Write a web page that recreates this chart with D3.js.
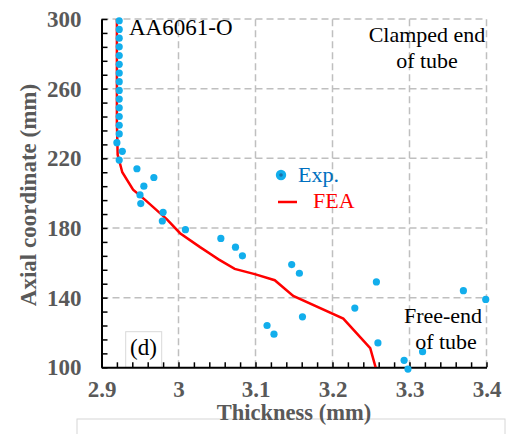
<!DOCTYPE html>
<html><head><meta charset="utf-8">
<script src="https://cdn.jsdelivr.net/npm/d3@7"></script>
<style>
html,body{margin:0;padding:0;background:#fff;}
svg{display:block;}
</style></head>
<body>
<svg id="chart" width="515" height="434"></svg>
<script>
// ---- data ----
const expAxial = [299,294,289,284,279,274,269,264,259,254,249,244,239,234,229,224,219,214,209,204,199,194,189,184,179,174,169,164,159,154,149,144,139,134,129,124,119,114,109,104,99];
const expThickness = [2.923,2.923,2.923,2.923,2.923,2.923,2.923,2.923,2.923,2.923,2.923,2.923,2.923,2.923,2.920,2.927,2.923,2.946,2.968,2.955,2.950,2.951,2.980,2.979,3.009,3.055,3.074,3.083,3.147,3.157,3.257,3.370,3.399,3.229,3.161,3.115,3.124,3.259,3.317,3.293,3.298];
const feaAxial = [300,280,260,240,222,212,202,196,185,177,169,162,156.5,153.5,150,141,128,111,100];
const feaThickness = [2.920,2.920,2.920,2.920,2.921,2.927,2.941,2.957,2.985,3.002,3.028,3.052,3.073,3.099,3.125,3.149,3.214,3.249,3.256];
const xTickLabels = ["2.9","3","3.1","3.2","3.3","3.4"];
const xTickValues = [2.9,3.0,3.1,3.2,3.3,3.4];
const yTickValues = [100,140,180,220,260,300];

const FONT = "'Liberation Serif', 'Times New Roman', Tinos, serif";
const svg = d3.select("#chart");
const x = d3.scaleLinear().domain([2.9,3.4]).range([101.5,486.5]);
const y = d3.scaleLinear().domain([100,300]).range([367.3,19]);
const gray = "#595959";

function txt(px, py, s, size, color, opts={}) {
  const t = svg.append("text").attr("x",px).attr("y",py)
    .style("font-family",FONT)
    .attr("font-size",size).attr("fill",color).text(s);
  if (opts.anchor) t.attr("text-anchor",opts.anchor);
  if (opts.bold) t.style("font-weight","bold");
  return t;
}

svg.append("defs").append("clipPath").attr("id","plotclip").append("rect")
  .attr("x",x(2.9)-5).attr("y",y(300)-5).attr("width",x(3.4)-x(2.9)+10).attr("height",y(100)-y(300)+5);

// grid
const grid = svg.append("g").attr("stroke","#bfbfbf").attr("stroke-width",1.5).attr("stroke-dasharray","7,4").attr("fill","none");
xTickValues.slice(1).forEach(v=>{
  grid.append("line").attr("x1",x(v)).attr("x2",x(v)).attr("y1",y(100)).attr("y2",y(300));
});
yTickValues.slice(1).forEach(v=>{
  grid.append("line").attr("x1",x(2.9)).attr("x2",x(3.4)).attr("y1",y(v)).attr("y2",y(v));
});

// (d) box
svg.append("rect").attr("x",125.7).attr("y",331.7).attr("width",36).attr("height",y(100)-331.7)
  .attr("fill","#fff").attr("stroke","#d9d9d9").attr("stroke-width",1);
txt(143.5,355,"(d)",23,"#000",{anchor:"middle"});

// axes
const yMinor = d3.range(100,301,8);
const gy = svg.append("g").attr("transform",`translate(${x(2.9)},0)`)
  .call(d3.axisLeft(y).tickValues(yMinor).tickSizeInner(-6).tickSizeOuter(0).tickFormat(""));
gy.select(".domain").attr("stroke","#000").attr("stroke-width",2);
gy.selectAll(".tick line").attr("stroke","#000").attr("stroke-width",1.5);

const xMinor = d3.range(0,26).map(i=>2.9+i*0.02);
const gx = svg.append("g").attr("transform",`translate(0,${y(100)})`)
  .call(d3.axisBottom(x).tickValues(xMinor).tickSizeInner(-5).tickSizeOuter(0).tickFormat(""));
gx.select(".domain").attr("stroke","#000").attr("stroke-width",2);
gx.selectAll(".tick line").attr("stroke","#000").attr("stroke-width",1.5);

// tick labels
const yl = svg.append("g").attr("transform",`translate(${x(2.9)},0)`)
  .call(d3.axisLeft(y).tickValues(yTickValues).tickSize(0).tickPadding(20).tickFormat(d3.format("d")));
yl.select(".domain").remove();
yl.selectAll("text").style("font-family",FONT).style("font-weight","bold")
  .attr("font-size",23).attr("fill",gray);

const xl = svg.append("g").attr("transform",`translate(0,${y(100)})`)
  .call(d3.axisBottom(x).tickValues(xTickValues).tickSize(0).tickPadding(13).tickFormat((d,i)=>xTickLabels[i]));
xl.select(".domain").remove();
xl.selectAll("text").style("font-family",FONT).style("font-weight","bold")
  .attr("font-size",23).attr("fill",gray);

// light frame below
svg.append("rect").attr("x",77).attr("y",419).attr("width",428).attr("height",30)
  .attr("fill","none").attr("stroke","#d6d6d6").attr("stroke-width",1);

// axis titles
txt(294,420,"Thickness (mm)",22.5,gray,{anchor:"middle",bold:true});
svg.append("text").attr("transform","translate(36,195) rotate(-90)").attr("text-anchor","middle")
  .style("font-family",FONT).style("font-weight","bold").attr("font-size",23).attr("fill",gray).text("Axial coordinate (mm)");

// FEA line
const line = d3.line().x(d=>x(d[0])).y(d=>y(d[1]));
svg.append("path").datum(feaThickness.map((t,i)=>[t,feaAxial[i]]))
  .attr("clip-path","url(#plotclip)")
  .attr("d",line).attr("fill","none").attr("stroke","#ff0000").attr("stroke-width",2.5);

// Exp points
const blue = "#12aeec";
svg.append("g").selectAll("circle").data(expThickness.map((t,i)=>[t,expAxial[i]])).join("circle")
  .attr("cx",d=>x(d[0])).attr("cy",d=>y(d[1])).attr("r",3.6).attr("fill",blue);

// annotations
txt(129,35,"AA6061-O",23,"#000");
txt(427,42,"Clamped end",22,"#000",{anchor:"middle"});
txt(427,68,"of tube",22,"#000",{anchor:"middle"});
txt(443,323,"Free-end",22,"#000",{anchor:"middle"});
txt(446,349,"of tube",22,"#000",{anchor:"middle"});

// legend
svg.append("circle").attr("cx",281).attr("cy",175).attr("r",5.2).attr("fill",blue);
svg.append("circle").attr("cx",281).attr("cy",175).attr("r",1.8).attr("fill","#1b6fa8");
txt(298,182,"Exp.",22,"#0070c0");
svg.append("line").attr("x1",278).attr("x2",297).attr("y1",202).attr("y2",202).attr("stroke","#ff0000").attr("stroke-width",2.5);
txt(313,208,"FEA",22,"#ff0000");
</script>
</body></html>
